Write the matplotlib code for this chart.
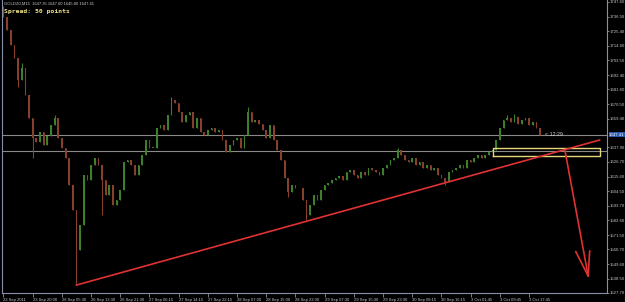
import matplotlib
matplotlib.use("Agg")
import matplotlib.pyplot as plt
import matplotlib.transforms as mtransforms

# ---------------- data (H1 closes) ----------------
first_open = 1741.0
closes = [
    1736.3, 1726.4, 1715.1, 1705.3, 1688.7, 1697.7, 1677.3, 1659.9, 1644.8, 1641.8,
    1649.4, 1639.5, 1646.3, 1654.6, 1659.9, 1644.8, 1637.3, 1629.7, 1609.3, 1590.4,
    1560.2, 1579.1, 1616.9, 1613.1, 1624.4, 1629.7, 1624.4, 1613.1, 1601.8, 1609.3,
    1594.2, 1597.9, 1605.5, 1626.7, 1628.2, 1624.4, 1616.9, 1624.4, 1632.0, 1643.3,
    1637.3, 1637.3, 1652.4, 1654.6, 1650.9, 1662.2, 1673.5, 1671.3, 1664.5, 1656.9,
    1662.2, 1664.5, 1652.4, 1659.9, 1649.4, 1647.1, 1650.9, 1652.4, 1649.4, 1650.9,
    1643.3, 1634.2, 1639.5, 1643.3, 1644.8, 1637.3, 1647.1, 1664.5, 1656.9, 1658.4,
    1655.4, 1650.9, 1644.8, 1654.6, 1643.3, 1635.8, 1628.2, 1614.6, 1604.0, 1609.3,
    1607.0, 1607.0, 1597.9, 1586.6, 1594.2, 1601.8, 1597.9, 1605.5, 1609.3, 1610.8,
    1613.1, 1614.6, 1616.1, 1613.1, 1619.1, 1620.6, 1616.9, 1614.6, 1619.1, 1616.9,
    1622.1, 1620.6, 1619.1, 1616.9, 1622.1, 1624.4, 1628.2, 1629.7, 1635.8, 1632.0,
    1628.2, 1626.7, 1629.7, 1624.4, 1626.7, 1622.1, 1624.4, 1620.6, 1622.1, 1616.9,
    1614.6, 1611.6, 1619.1, 1620.6, 1622.1, 1624.4, 1622.1, 1628.2, 1626.7, 1629.7,
    1632.0, 1629.7, 1632.0, 1634.2, 1635.8, 1643.3, 1652.4, 1658.4, 1659.9, 1656.9,
    1660.7, 1655.4, 1658.4, 1659.9, 1654.6, 1656.9, 1652.4, 1647.41,
]
# visible extreme wicks: bar index -> price
wick_highs = {0: 1744.5, 5: 1701.5, 14: 1662.2, 46: 1675.8, 67: 1668.2,
              108: 1637.3, 138: 1662.2, 140: 1663.0}
wick_lows = {4: 1683.4, 8: 1629.7, 20: 1533.7, 27: 1586.6, 78: 1600.2,
             83: 1582.9, 121: 1609.3}

time_labels = ["23 Sep 2011", "23 Sep 20:00", "26 Sep 05:30", "26 Sep 13:30",
               "26 Sep 21:30", "27 Sep 06:15", "27 Sep 14:15", "27 Sep 22:15",
               "28 Sep 07:00", "28 Sep 15:00", "28 Sep 23:00", "29 Sep 07:30",
               "29 Sep 15:30", "29 Sep 23:30", "30 Sep 08:15", "30 Sep 16:15",
               "3 Oct 01:45", "3 Oct 09:45", "3 Oct 17:45"]
bars_per_label = 8

price_ticks = [1747.60, 1736.50, 1725.40, 1714.60, 1703.50, 1692.40, 1681.60,
               1670.50, 1659.40, 1637.90, 1626.70, 1615.60, 1604.50, 1593.70,
               1582.60, 1571.50, 1560.70, 1549.60, 1538.50, 1527.70]

bid_price = 1647.41
hline_price = 1635.2
header = "GOLDZ0,M15  1647.35 1647.60 1645.80 1647.41"
spread_text = "Spread: 50 points"
timer_text = "< 12:29"

trend_bars = [20.0, 163.3]
trend_prices = [1533.7, 1643.3]
rect_bars = [134.0, 163.3]
rect_prices = [1631.2, 1637.5]
arrow_bars = [153.8, 160.2]
arrow_prices = [1635.8, 1540.5]
arrow_head_bars = [156.8, 160.2, 160.6]
arrow_head_prices = [1558.9, 1540.5, 1559.4]

# ---------------- figure ----------------
W, H = 625, 302
fig = plt.figure(figsize=(W / 100, H / 100), dpi=100, facecolor="black")
ax = fig.add_axes([2 / W, 9 / H, 605 / W, 293 / H], facecolor="black")

opens = [first_open] + closes[:-1]
up_col, dn_col = "#3d7f2a", "#86402c"
for i, (o, c) in enumerate(zip(opens, closes)):
    col = up_col if c >= o else dn_col
    lo, hi = min(o, c), max(o, c)
    hi_w = wick_highs.get(i, hi)
    lo_w = wick_lows.get(i, lo)
    ax.vlines(i, lo_w, hi_w, color=col, lw=0.8, zorder=2)
    ax.bar(i, max(hi - lo, 0.4), bottom=lo, width=0.45, color=col, lw=0, zorder=2)

ax.set_xlim(-0.4, 165.35)
ax.set_ylim(1527.7, 1749.1)

# horizontal lines
ax.axhline(bid_price, color="#8a8a8a", lw=0.8, zorder=1)
ax.axhline(hline_price, color="#8a8a8a", lw=0.8, zorder=1)

# trend line, rectangle, arrow
ax.plot(trend_bars, trend_prices, color="#e03232", lw=1.2, zorder=4)
ax.plot([rect_bars[0], rect_bars[1], rect_bars[1], rect_bars[0], rect_bars[0]],
        [rect_prices[0], rect_prices[0], rect_prices[1], rect_prices[1], rect_prices[0]],
        color="#e8d67a", lw=1.0, zorder=3)
ax.plot(arrow_bars, arrow_prices, color="#e03232", lw=1.2, zorder=4)
ax.plot(arrow_head_bars, arrow_head_prices, color="#e03232", lw=1.2, zorder=4)

ax.text(148.5, bid_price, timer_text, color="#d0d0d0", fontsize=3.8,
        family="Liberation Sans", va="center", ha="left")

# spines
frame = "#8890a8"
for s in ["left", "bottom", "right"]:
    ax.spines[s].set_color(frame)
    ax.spines[s].set_linewidth(0.8)
ax.spines["top"].set_visible(False)

# y axis on right
ax.yaxis.tick_right()
ax.set_yticks(price_ticks)
ax.set_yticklabels([f"{v:.2f}" for v in price_ticks])
ax.tick_params(axis="y", colors=frame, labelcolor="#c8c8c8", labelsize=3.1,
               length=1.5, width=0.6, pad=0.5)
for lab in ax.get_yticklabels():
    lab.set_family("Liberation Sans")

# highlighted price label
tr = mtransforms.blended_transform_factory(ax.transAxes, ax.transData)
ax.text(1.0035, bid_price, f"{bid_price:.2f}", transform=tr, fontsize=3.1,
        family="Liberation Sans", color="white", va="center", ha="left",
        bbox=dict(boxstyle="square,pad=0.12", fc="#2a5ab0", ec="none"), zorder=6,
        clip_on=False)

# x axis labels
ax.set_xticks([k * bars_per_label for k in range(len(time_labels))])
ax.set_xticklabels(time_labels, ha="left")
ax.tick_params(axis="x", colors=frame, labelcolor="#c8c8c8", labelsize=3.0,
               length=3, width=0.6, pad=0.3)
for lab in ax.get_xticklabels():
    lab.set_family("Liberation Sans")

# header texts
fig.text(4 / W, 1 - 4 / H, header, color="#c8c8c8", fontsize=3.0,
         family="Liberation Sans", va="center", ha="left")
fig.text(4 / W, 1 - 11 / H, spread_text, color="#f0e68c", fontsize=4.6,
         family="DejaVu Sans Mono", weight="bold", va="center", ha="left")

fig.savefig("out.png", dpi=100, facecolor="black")
